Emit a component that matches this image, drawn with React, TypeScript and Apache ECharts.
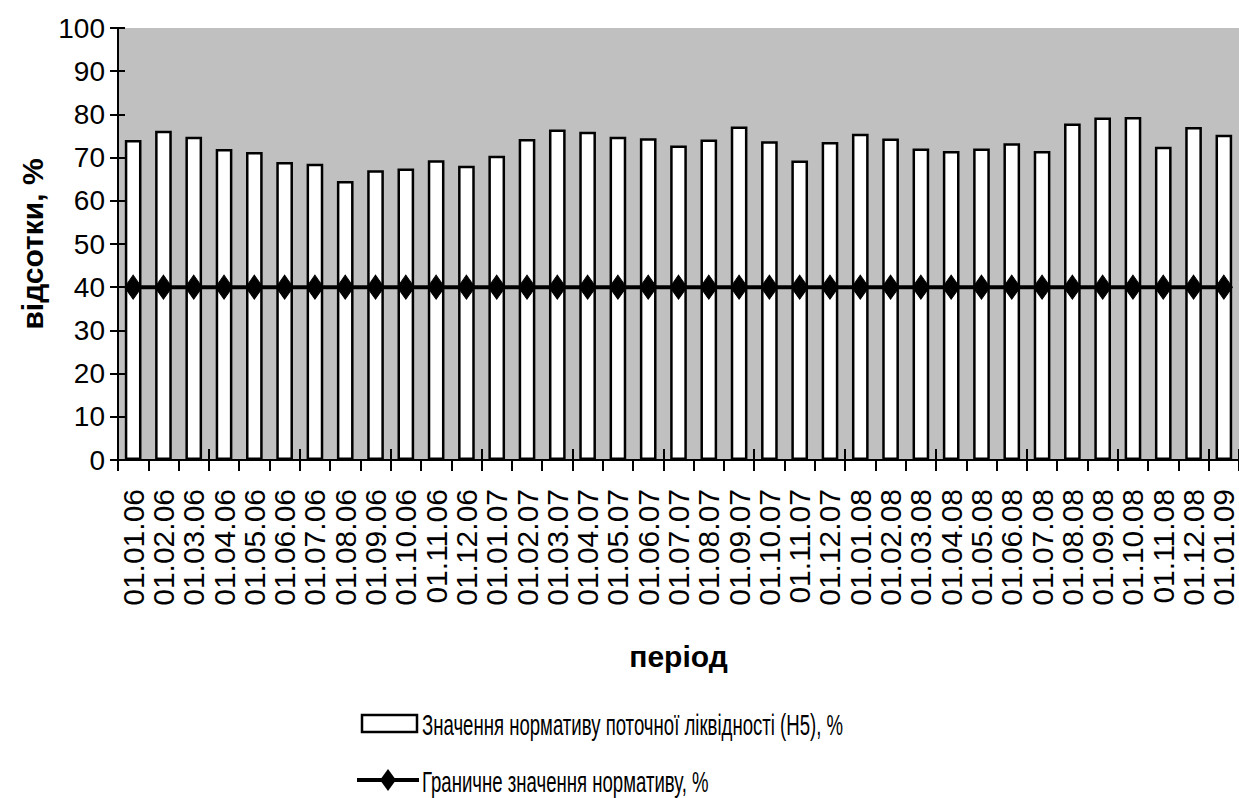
import React, { useEffect, useRef } from "react";
import * as echarts from "echarts";

const categories = [
  "01.01.06", "01.02.06", "01.03.06", "01.04.06", "01.05.06", "01.06.06",
  "01.07.06", "01.08.06", "01.09.06", "01.10.06", "01.11.06", "01.12.06",
  "01.01.07", "01.02.07", "01.03.07", "01.04.07", "01.05.07", "01.06.07",
  "01.07.07", "01.08.07", "01.09.07", "01.10.07", "01.11.07", "01.12.07",
  "01.01.08", "01.02.08", "01.03.08", "01.04.08", "01.05.08", "01.06.08",
  "01.07.08", "01.08.08", "01.09.08", "01.10.08", "01.11.08", "01.12.08",
  "01.01.09",
];

const h5Values = [
  74.1, 76.2, 74.8, 72.0, 71.3, 69.0, 68.6, 64.6, 67.1, 67.5, 69.4, 68.1,
  70.4, 74.3, 76.5, 76.0, 74.8, 74.5, 72.8, 74.2, 77.2, 73.8, 69.3, 73.6,
  75.5, 74.4, 72.1, 71.5, 72.1, 73.3, 71.5, 77.9, 79.3, 79.4, 72.5, 77.1,
  75.3,
];

const limitValues = [
  40, 40, 40, 40, 40, 40, 40, 40, 40, 40, 40, 40,
  40, 40, 40, 40, 40, 40, 40, 40, 40, 40, 40, 40,
  40, 40, 40, 40, 40, 40, 40, 40, 40, 40, 40, 40,
  40,
];

const seriesNames = [
  "Значення нормативу поточної ліквідності (Н5), %",
  "Граничне значення нормативу, %",
];

const FONT = "'Liberation Sans', Arial, sans-serif";

export default function App() {
  const ref = useRef<HTMLDivElement>(null);

  useEffect(() => {
    if (!ref.current) return;
    const chart = echarts.init(ref.current, undefined, { renderer: "svg" });
    const legendText = (text: string, y: number) => ({
      type: "text",
      x: 422,
      y,
      scaleX: 0.62,
      style: {
        text,
        fontFamily: FONT,
        fontSize: 30,
        fill: "#000",
        align: "left",
        verticalAlign: "middle",
      },
    });
    chart.setOption({
      animation: false,
      backgroundColor: "#ffffff",
      grid: {
        left: 118,
        top: 28,
        right: 0,
        bottom: 338,
        show: true,
        backgroundColor: "#c0c0c0",
        borderWidth: 0,
        containLabel: false,
        outerBoundsMode: "none",
      },
      legend: { show: false },
      graphic: [
        {
          type: "rect",
          shape: { x: 362, y: 715, width: 55, height: 17 },
          style: { fill: "#fff", stroke: "#000", lineWidth: 2.5 },
        },
        legendText(seriesNames[0], 724),
        {
          type: "line",
          shape: { x1: 357, y1: 780, x2: 419, y2: 780 },
          style: { stroke: "#000", lineWidth: 4 },
        },
        {
          type: "polygon",
          shape: { points: [[388, 769], [396, 780], [388, 791], [380, 780]] },
          style: { fill: "#000" },
        },
        legendText(seriesNames[1], 781),
      ],
      xAxis: [
        {
          type: "category",
          data: categories,
          boundaryGap: true,
          name: "період",
          nameLocation: "middle",
          nameGap: 181,
          nameTextStyle: { fontFamily: FONT, fontSize: 30, fontWeight: "bold", color: "#000" },
          axisLine: { show: true, lineStyle: { color: "#000", width: 2 } },
          axisTick: { show: true, length: 11, lineStyle: { color: "#000", width: 2 } },
          axisLabel: {
            interval: 0,
            rotate: 90,
            margin: 29,
            fontFamily: FONT,
            fontSize: 30,
            color: "#000",
          },
          splitLine: { show: false },
        },
        {
          type: "category",
          data: categories,
          boundaryGap: true,
          position: "top",
          offset: -432,
          axisLine: { show: false },
          axisTick: { show: true, length: 11, lineStyle: { color: "#000", width: 2 } },
          axisLabel: { show: false },
          splitLine: { show: false },
        },
      ],
      yAxis: [
        {
          type: "value",
          min: 0,
          max: 100,
          interval: 10,
          name: "відсотки, %",
          nameLocation: "middle",
          nameRotate: 90,
          nameGap: 70,
          nameTextStyle: { fontFamily: FONT, fontSize: 30, fontWeight: "bold", color: "#000" },
          axisLine: { show: true, lineStyle: { color: "#000", width: 2 } },
          axisTick: { show: true, length: 8, lineStyle: { color: "#000", width: 2 } },
          axisLabel: { margin: 13, fontFamily: FONT, fontSize: 28, color: "#000" },
          splitLine: { show: false },
        },
        {
          type: "value",
          min: 0,
          max: 100,
          interval: 10,
          position: "right",
          offset: -1121,
          axisLine: { show: false },
          axisTick: { show: true, length: 7, lineStyle: { color: "#000", width: 2 } },
          axisLabel: { show: false },
          splitLine: { show: false },
        },
      ],
      series: [
        {
          name: seriesNames[0],
          type: "bar",
          xAxisIndex: 0,
          yAxisIndex: 0,
          data: h5Values,
          barWidth: "55%",
          itemStyle: { color: "#ffffff", borderColor: "#000000", borderWidth: 2.5 },
          z: 2,
        },
        {
          name: seriesNames[1],
          type: "line",
          xAxisIndex: 0,
          yAxisIndex: 0,
          data: limitValues,
          symbol: "diamond",
          symbolSize: [17, 24],
          lineStyle: { color: "#000", width: 4 },
          itemStyle: { color: "#000", borderColor: "#000" },
          z: 3,
        },
      ],
    });
    return () => chart.dispose();
  }, []);

  return (
    <div
      ref={ref}
      style={{ position: "fixed", left: 0, top: 0, width: 1239, height: 798, background: "#fff" }}
    />
  );
}
